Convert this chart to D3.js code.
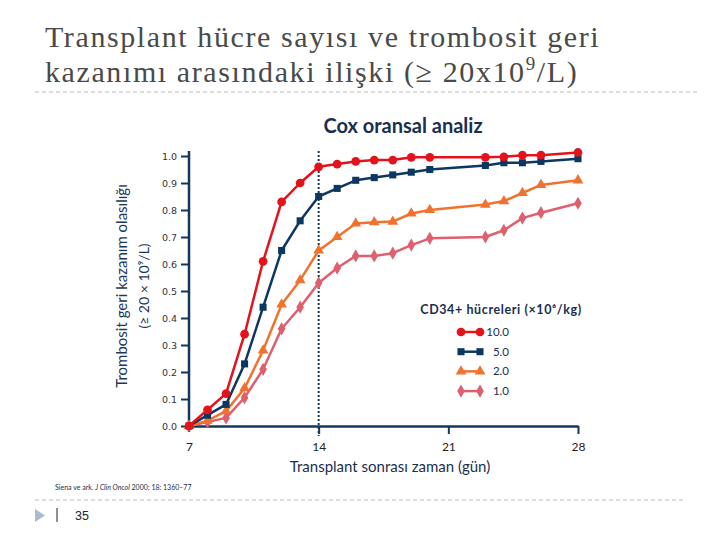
<!DOCTYPE html>
<html>
<head>
<meta charset="utf-8">
<script src="https://cdn.jsdelivr.net/npm/d3@7"></script>
<style>
  body { margin: 0; background: #fff; }
  svg { display: block; }
</style>
</head>
<body>
<svg width="720" height="540"></svg>
<script>
// days after transplant
const days = [7, 8, 9, 10, 11, 12, 13, 14, 15, 16, 17, 18, 19, 20, 23, 24, 25, 26, 28];

// probability of platelet recovery, by CD34+ dose
const dose10 = [0, 0.06, 0.12, 0.34, 0.61, 0.83, 0.90, 0.96, 0.97, 0.98, 0.985, 0.985, 0.995, 0.995, 0.995, 0.997, 1.003, 1.003, 1.013];
const dose5  = [0, 0.04, 0.08, 0.23, 0.44, 0.65, 0.76, 0.85, 0.88, 0.91, 0.92, 0.93, 0.94, 0.95, 0.965, 0.975, 0.975, 0.98, 0.99];
const dose2  = [0, 0.02, 0.055, 0.14, 0.28, 0.45, 0.54, 0.65, 0.70, 0.75, 0.755, 0.757, 0.787, 0.80, 0.82, 0.833, 0.863, 0.893, 0.91];
const dose1  = [0, 0.015, 0.03, 0.105, 0.21, 0.36, 0.44, 0.53, 0.585, 0.63, 0.63, 0.64, 0.67, 0.695, 0.70, 0.725, 0.77, 0.79, 0.825];

const seriesNames = ["10.0", "5.0", "2.0", "1.0"];
const xTicks = [7, 14, 21, 28];
const yTicks = [0, 0.1, 0.2, 0.3, 0.4, 0.5, 0.6, 0.7, 0.8, 0.9, 1.0];

const navy = "#13385e";
const series = [
  { name: seriesNames[0], values: dose10, color: "#e3121b", symbol: d3.symbolCircle, size: 60 },
  { name: seriesNames[1], values: dose5,  color: "#0c3762", symbol: d3.symbolSquare, size: 50 },
  { name: seriesNames[2], values: dose2,  color: "#f0722e", symbol: d3.symbolTriangle, size: 50 },
  { name: seriesNames[3], values: dose1,  color: "#de5f6e", symbol: d3.symbolDiamond, size: 50 }
];

const svg = d3.select("svg");

// ---- slide title ----
const title = svg.append("text")
    .attr("font-family", "Liberation Serif, Times New Roman, serif")
    .attr("font-size", 30)
    .attr("letter-spacing", 1.6)
    .attr("fill", "#4a4a4a");
title.append("tspan").attr("x", 45).attr("y", 47).text("Transplant hücre sayısı ve trombosit geri");
const t2 = title.append("tspan").attr("x", 45).attr("y", 82);
t2.append("tspan").text("kazanımı arasındaki ilişki (≥ 20x10");
t2.append("tspan").attr("dy", -12).attr("font-size", 19).text("9");
t2.append("tspan").attr("dy", 12).text("/L)");

svg.append("line")
    .attr("x1", 35).attr("x2", 700).attr("y1", 92).attr("y2", 92)
    .attr("stroke", "#bbb").attr("stroke-dasharray", "4,3");

svg.append("text")
    .attr("x", 403).attr("y", 133)
    .attr("text-anchor", "middle")
    .attr("font-family", "Lato, sans-serif")
    .attr("font-weight", "bold")
    .attr("font-size", 20)
    .attr("fill", "#1a2f50")
    .text("Cox oransal analiz");

// ---- scales ----
const x = d3.scaleLinear().domain([7, 28]).range([189, 578]);
const y = d3.scaleLinear().domain([0, 1]).range([426, 156]);

// ---- axes ----
const yAxis = svg.append("g")
    .attr("transform", "translate(189,0)")
    .call(d3.axisLeft(y).tickValues(yTicks).tickFormat(d3.format(".1f")).tickSize(8).tickSizeOuter(0).tickPadding(4));
yAxis.select(".domain").remove();
yAxis.selectAll("line").attr("stroke", navy).attr("stroke-width", 2);
yAxis.selectAll("text")
    .attr("font-family", "DejaVu Sans, Verdana, sans-serif")
    .attr("font-size", 9.5)
    .attr("fill", "#333");
svg.append("line")
    .attr("x1", 189).attr("x2", 189).attr("y1", 151).attr("y2", 432)
    .attr("stroke", navy).attr("stroke-width", 2.5);

const xAxis = svg.append("g")
    .attr("transform", "translate(0,426)")
    .call(d3.axisBottom(x).tickValues(xTicks).tickSize(8).tickSizeOuter(0).tickPadding(8));
xAxis.select(".domain").attr("stroke", navy).attr("stroke-width", 2.5);
xAxis.selectAll("line").attr("stroke", navy).attr("stroke-width", 2);
xAxis.selectAll(".tick").filter(d => d === 7).select("line").remove();
xAxis.selectAll("text")
    .attr("font-family", "Lato, sans-serif")
    .attr("font-size", 12)
    .attr("fill", "#222");

// axis titles
svg.append("text")
    .attr("x", 390).attr("y", 472)
    .attr("text-anchor", "middle")
    .attr("font-family", "Lato, sans-serif")
    .attr("font-size", 15)
    .attr("fill", "#1a2f50")
    .text("Transplant sonrası zaman (gün)");

const yl = svg.append("text")
    .attr("transform", "translate(127,286) rotate(-90)")
    .attr("text-anchor", "middle")
    .attr("font-family", "Lato, sans-serif")
    .attr("font-size", 15)
    .attr("fill", "#1a3a5c");
yl.append("tspan").attr("x", 0).attr("y", 0).text("Trombosit geri kazanım olasılığı");
yl.append("tspan").attr("x", 0).attr("y", 22).attr("font-size", 14).text("(≥ 20 × 10⁹/L)");

// dotted reference at day 14
svg.append("line")
    .attr("x1", x(14)).attr("x2", x(14))
    .attr("y1", 151).attr("y2", 436)
    .attr("stroke", navy).attr("stroke-width", 2)
    .attr("stroke-dasharray", "2,2");

// ---- series ----
const line = d3.line().x((d, i) => x(days[i])).y(d => y(d));

series.slice().reverse().forEach(s => {
  svg.append("path")
      .datum(s.values)
      .attr("d", line)
      .attr("fill", "none")
      .attr("stroke", s.color)
      .attr("stroke-width", 2.5)
      .attr("stroke-linejoin", "round");
  svg.selectAll(null)
      .data(s.values)
      .enter()
      .append("path")
      .attr("d", d3.symbol().type(s.symbol).size(s.size))
      .attr("transform", (d, i) => "translate(" + x(days[i]) + "," + y(d) + ")")
      .attr("fill", s.color);
});

// ---- legend ----
svg.append("text")
    .attr("x", 501).attr("y", 314)
    .attr("text-anchor", "middle")
    .attr("font-family", "Lato, sans-serif")
    .attr("font-weight", "bold")
    .attr("font-size", 12.5)
    .attr("letter-spacing", 0.6)
    .attr("fill", "#1a2f50")
    .text("CD34+ hücreleri (×10⁶/kg)");

const legend = svg.selectAll(".leg")
    .data(series)
    .enter()
    .append("g")
    .attr("class", "leg")
    .attr("transform", (d, i) => "translate(0," + (332 + i * 19.7) + ")");
legend.append("line")
    .attr("x1", 461).attr("x2", 480)
    .attr("stroke", d => d.color).attr("stroke-width", 2.5);
legend.each(function (d) {
  const g = d3.select(this);
  [461, 480].forEach(cx => {
    g.append("path")
        .attr("d", d3.symbol().type(d.symbol).size(d.size))
        .attr("transform", "translate(" + cx + ",0)")
        .attr("fill", d.color);
  });
});
legend.append("text")
    .attr("x", 509).attr("y", 4)
    .attr("text-anchor", "end")
    .attr("font-family", "Lato, sans-serif")
    .attr("font-size", 11.5)
    .attr("fill", "#1a2f50")
    .text(d => d.name);

// ---- footer ----
const foot = svg.append("text")
    .attr("x", 55).attr("y", 490)
    .attr("font-family", "Lato, sans-serif")
    .attr("font-size", 7)
    .attr("fill", "#1a2f50");
foot.append("tspan").text("Siena ve ark. ");
foot.append("tspan").attr("font-style", "italic").text("J Clin Oncol");
foot.append("tspan").text(" 2000; 18: 1360–77");

svg.append("line")
    .attr("x1", 35).attr("x2", 686).attr("y1", 500).attr("y2", 500)
    .attr("stroke", "#bbb").attr("stroke-dasharray", "4,3");

svg.append("path")
    .attr("d", "M35,509 L45,515.5 L35,522 Z")
    .attr("fill", "#a9bccf");
svg.append("line")
    .attr("x1", 57).attr("x2", 57).attr("y1", 508).attr("y2", 522)
    .attr("stroke", "#222").attr("stroke-width", 1);
svg.append("text")
    .attr("x", 75).attr("y", 520)
    .attr("font-family", "Liberation Sans, Arial, sans-serif")
    .attr("font-size", 12.5)
    .attr("fill", "#222")
    .text("35");
</script>
</body>
</html>
